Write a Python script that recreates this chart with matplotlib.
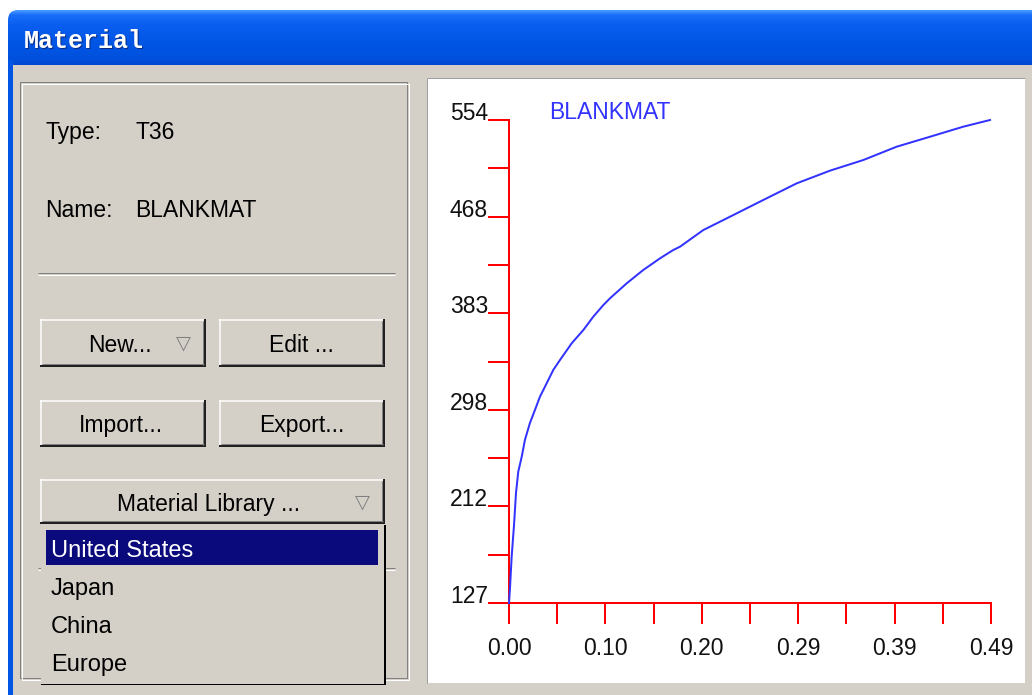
import numpy as np
import matplotlib
matplotlib.use("Agg")
import matplotlib.pyplot as plt
from matplotlib.patches import Rectangle, FancyBboxPatch
from matplotlib.colors import LinearSegmentedColormap

# ---------------- data ----------------
strain = [0.0, 0.0010, 0.0027, 0.0051, 0.0071, 0.0094, 0.0129, 0.0162, 0.0213,
          0.0264, 0.0314, 0.0382, 0.0449, 0.0517, 0.0636, 0.0754, 0.0855, 0.0957,
          0.1025, 0.1194, 0.1362, 0.1532, 0.1667, 0.1735, 0.1971, 0.2242, 0.2580,
          0.2919, 0.3256, 0.3594, 0.3933, 0.4271, 0.4609, 0.4880]
stress = [126.8, 140.1, 167.7, 195.8, 224.1, 242.9, 256.1, 271.1, 286.1, 297.6,
          309.2, 321.0, 332.8, 341.6, 356.4, 368.1, 379.9, 390.2, 396.2, 409.4,
          421.2, 431.5, 438.9, 441.8, 456.5, 468.3, 483.1, 497.8, 509.0, 518.4,
          530.2, 539.0, 547.9, 553.8]
x_min, x_max = 0.0, 0.489
y_min, y_max = 126.8, 553.8
x_tick_labels = ["0.00", "0.10", "0.20", "0.29", "0.39", "0.49"]
y_tick_labels = ["127", "212", "298", "383", "468", "554"]
curve_name = "BLANKMAT"
window_title = "Material"
mat_type = "T36"
library_items = ["United States", "Japan", "China", "Europe"]

# ---------------- style ----------------
W, H = 1032, 695
PX = 0.72  # one pixel in points at dpi 100
GRAY = "#d4d0c8"
FONT = "Liberation Sans"
FS = 16.5
RED = "#ff0000"
BLUE = "#3333ff"

fig = plt.figure(figsize=(W / 100, H / 100), dpi=100)
bg = fig.add_axes([0, 0, 1, 1])
bg.set_xlim(0, W)
bg.set_ylim(H, 0)
bg.axis("off")
bg.add_patch(Rectangle((0, 0), W, H, fc="white", ec="none", zorder=0))

# title bar gradient with rounded corner
cmap = LinearSegmentedColormap.from_list(
    "xp", [(0, "#4a9bff"), (0.08, "#1a6ef8"), (0.25, "#0a5ff0"),
           (0.6, "#0055e5"), (0.9, "#0050dc"), (1, "#0046cc")])
clip = FancyBboxPatch((8, 10), 1060, 100, boxstyle="round,pad=0,rounding_size=10",
                      transform=bg.transData)
im = bg.imshow(np.linspace(0, 1, 80)[:, None], extent=(8, W, 66, 10),
               aspect="auto", cmap=cmap, zorder=1)
im.set_clip_path(clip)
bg.add_patch(Rectangle((8, 60), 6, H - 60, fc="#0055e5", ec="none", zorder=1))
bg.add_patch(Rectangle((13, 65), W - 13, H - 65, fc=GRAY, ec="none", zorder=1))
bg.text(25, 49, window_title, color="#0a2a80", fontsize=18, family="Liberation Mono",
        weight="bold", va="baseline", zorder=3)
bg.text(24, 48, window_title, color="white", fontsize=18, family="Liberation Mono",
        weight="bold", va="baseline", zorder=4)


def line(xs, ys, c, w=1):
    bg.plot(xs, ys, color=c, lw=w * PX, solid_capstyle="butt", zorder=5)


# left group box (etched)
line([20, 407, 407, 20, 20], [82, 82, 678, 678, 82], "#808080")
line([22, 409, 409, 22, 22], [84, 84, 680, 680, 84], "white")
# right white plot panel
bg.add_patch(Rectangle((427, 78), 598, 605, fc="white", ec="none", zorder=2))
line([427, 1025], [78, 78], "#a0a0a0")
line([427, 427], [78, 683], "#a0a0a0")

# separators
for ys in (273, 568):
    line([38, 395], [ys, ys], "#808080")
    line([38, 395], [ys + 2, ys + 2], "white")


def txt(x, y, s, color="black", ha="left", fs=FS, **kw):
    bg.text(x, y, s, color=color, ha=ha, va="baseline", fontsize=fs,
            family=FONT, zorder=8, **kw)


txt(45, 139, "Type:")
txt(135, 139, mat_type)
txt(45, 217, "Name:")
txt(135, 217, curve_name)


def button(x0, y0, x1, y1):
    bg.add_patch(Rectangle((x0, y0), x1 - x0, y1 - y0, fc=GRAY, ec="none", zorder=4))
    line([x0, x1], [y0 + 0.5, y0 + 0.5], "white", 1.5)
    line([x0 + 0.5, x0 + 0.5], [y0, y1], "white", 1.5)
    line([x0, x1], [y1 - 1, y1 - 1], "#202020", 2)
    line([x1 - 1, x1 - 1], [y0, y1], "#202020", 2)
    line([x0 + 2, x1 - 2], [y1 - 3, y1 - 3], "#808080", 1)
    line([x1 - 3, x1 - 3], [y0 + 2, y1 - 2], "#808080", 1)


def tri(x, y):
    bg.text(x, y, "\u25bd", color="#808080", ha="center", va="center",
            fontsize=14, family="DejaVu Sans", zorder=8)


button(40, 319, 206, 367)
txt(88, 352, "New...")
tri(183, 343)
button(219, 319, 385, 367)
txt(269, 352, "Edit ...")
button(40, 400, 206, 447)
txt(79, 432, "Import...")
button(219, 400, 385, 447)
txt(259, 432, "Export...")
button(40, 479, 385, 524)
txt(117, 511, "Material Library ...")
tri(362, 502)

# dropdown list
bg.add_patch(Rectangle((41, 525), 343, 159, fc=GRAY, ec="none", zorder=6))
line([41, 384], [525.5, 525.5], "white", 1.5)
line([41.5, 41.5], [525, 684], "white", 1.5)
line([41, 385], [684, 684], "black", 2)
line([384.5, 384.5], [525, 685], "black", 2)
bg.add_patch(Rectangle((46, 530), 332, 35, fc="#0a0a7c", ec="none", zorder=7))
list_base = [557, 595, 633, 671]
for i, (item, yb) in enumerate(zip(library_items, list_base)):
    txt(51, yb, item, color="white" if i == 0 else "black", fs=17)

# curve name label
txt(549, 119, curve_name, color=BLUE)

# ---------------- chart ----------------
ax = fig.add_axes([509 / W, (H - 603) / H, 482 / W, 483 / H])
ax.set_facecolor("none")
ax.plot(strain, stress, color=BLUE, lw=2 * PX, zorder=3, clip_on=False)
ax.set_xlim(x_min, x_max)
ax.set_ylim(y_min, y_max)
for s in ("top", "right"):
    ax.spines[s].set_visible(False)
for s in ("left", "bottom"):
    ax.spines[s].set_color(RED)
    ax.spines[s].set_linewidth(2 * PX)
xt = np.linspace(x_min, x_max, 11)
yt = np.linspace(y_min, y_max, 11)
ax.set_xticks(xt)
ax.set_yticks(yt)
ax.set_xticklabels([x_tick_labels[i // 2] if i % 2 == 0 else "" for i in range(11)],
                   family=FONT, fontsize=FS)
ax.set_yticklabels([y_tick_labels[i // 2] if i % 2 == 0 else "" for i in range(11)],
                   family=FONT, fontsize=FS)
ax.tick_params(axis="both", direction="out", length=21 * PX, width=2 * PX,
               color=RED, labelcolor="#111111")
ax.tick_params(axis="x", pad=13 * PX)
ax.tick_params(axis="y", pad=0)
for lab in ax.get_yticklabels():
    lab.set_va("baseline")

fig.savefig("out.png", dpi=100)
